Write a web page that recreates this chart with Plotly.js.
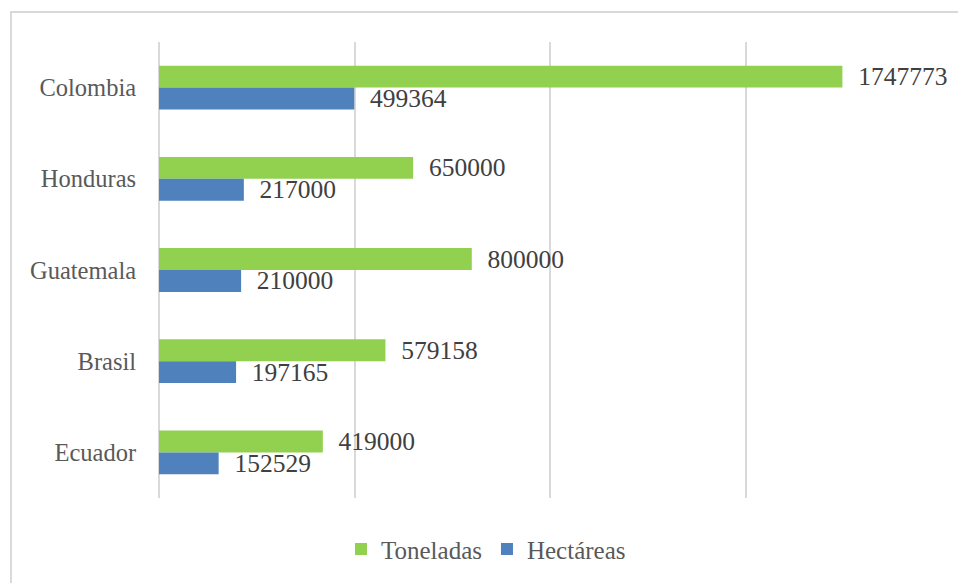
<!DOCTYPE html>
<html><head><meta charset="utf-8">
<script src="https://cdn.plot.ly/plotly-3.0.1.min.js"></script>
<style>html,body{margin:0;padding:0;background:#fff}#chart{width:958px;height:583px}</style>
</head><body><div id="chart"></div>
<script>
const categories = ["Colombia", "Honduras", "Guatemala", "Brasil", "Ecuador"];
const toneladas = [1747773, 650000, 800000, 579158, 419000];
const hectareas = [499364, 217000, 210000, 197165, 152529];
const seriesNames = ["Toneladas", "Hectáreas"];

const FONT = "Liberation Serif, DejaVu Serif, serif";
const labelFont = {family:FONT, size:25.5, color:'#404040'};
const traces = [
  {type:'bar', orientation:'h', name:seriesNames[0], y:categories, x:toneladas,
   marker:{color:'#92D050'}, text:toneladas.map(String), textposition:'outside',
   texttemplate:'  %{text}', cliponaxis:false, constraintext:'none', textfont:labelFont},
  {type:'bar', orientation:'h', name:seriesNames[1], y:categories, x:hectareas,
   marker:{color:'#4F81BD'}, text:hectareas.map(String), textposition:'outside',
   texttemplate:'  %{text}', cliponaxis:false, constraintext:'none', textfont:labelFont}
];
const layout = {
  width:958, height:583,
  margin:{l:159, r:17, t:42, b:84},
  paper_bgcolor:'#fff', plot_bgcolor:'#fff',
  barmode:'group', bargap:0.52, bargroupgap:0,
  font:{family:FONT, color:'#595959'},
  xaxis:{range:[0,2000000], dtick:500000, showticklabels:false, showgrid:true,
         gridcolor:'#d9d9d9', gridwidth:2, zeroline:true, zerolinecolor:'#d9d9d9', zerolinewidth:2,
         showline:false, fixedrange:true},
  yaxis:{autorange:'reversed', showgrid:false, zeroline:false, showline:false,
         ticks:'outside', ticklen:17, tickcolor:'rgba(0,0,0,0)',
         tickfont:{family:FONT, size:24.5, color:'#595959'}},
  showlegend:true,
  legend:{orientation:'h', x:0.2327, xanchor:'left', y:-0.11, yanchor:'middle',
          font:{family:FONT, size:25, color:'#595959'}, itemwidth:30, itemgap:3, traceorder:'normal'},
  shapes:[{type:'rect', xref:'paper', yref:'paper', x0:-0.1893, x1:1.04, y0:-0.2, y1:1.0656,
           line:{color:'#d9d9d9', width:2}, fillcolor:'rgba(0,0,0,0)'}]
};
Plotly.newPlot('chart', traces, layout, {displayModeBar:false, staticPlot:true});
</script></body></html>
